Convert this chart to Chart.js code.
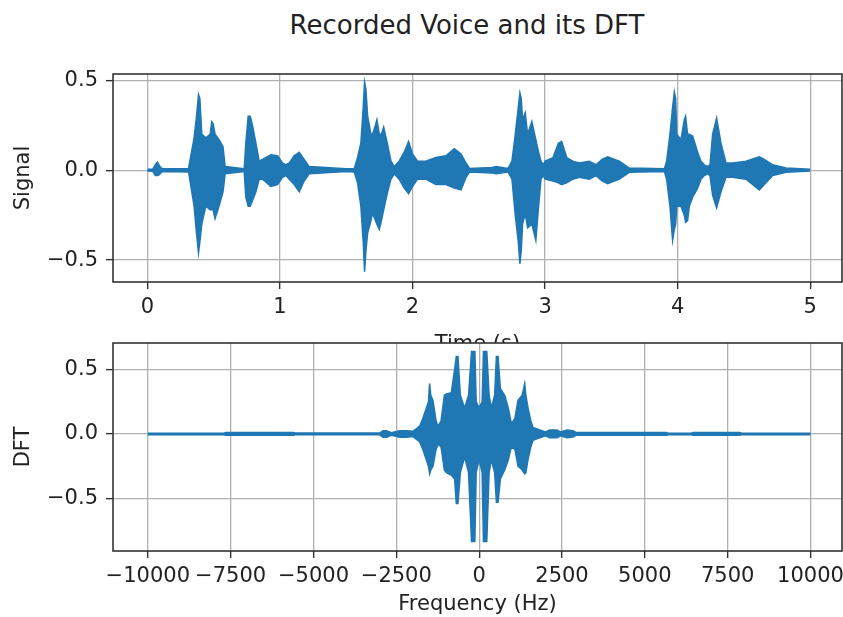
<!DOCTYPE html>
<html>
<head>
<meta charset="utf-8">
<title>Recorded Voice and its DFT</title>
<script src="https://cdn.jsdelivr.net/npm/chart.js@4.4.1/dist/chart.umd.min.js"></script>
<style>
  html, body { margin: 0; padding: 0; background: #fff; overflow: hidden; }
  body { width: 843px; height: 617px; position: relative; font-family: "DejaVu Sans", sans-serif; }
  #suptitle { position: absolute; left: 0; top: 10px; width: 934px; text-align: center; font-size: 26px; line-height: 30px; color: #222; }
  #signalChart { position: absolute; left: 0; top: 0; }
  #dftChart { position: absolute; left: 0; top: 330px; }
</style>
</head>
<body>
<div id="suptitle">Recorded Voice and its DFT</div>
<canvas id="signalChart" width="843" height="360"></canvas>
<canvas id="dftChart" width="843" height="287"></canvas>
<script>
// recorded signal: envelope of the waveform (upper / lower) over time in seconds
const sigTime = [0.00, 0.04, 0.06, 0.075, 0.09, 0.11, 0.31, 0.352, 0.37, 0.385, 0.395, 0.41, 0.44, 0.473, 0.485, 0.495, 0.51, 0.54, 0.57, 0.586,
  0.73, 0.742, 0.76, 0.775, 0.792, 0.818, 0.843, 0.868, 0.931, 0.981, 1.019, 1.044, 1.07, 1.107, 1.145, 1.182, 1.22, 1.5,
  1.56, 1.585, 1.61, 1.628, 1.638, 1.648, 1.661, 1.686, 1.698, 1.72, 1.731, 1.749, 1.765, 1.782, 1.812, 1.837, 1.862,
  1.899, 1.937, 1.97, 2.0, 2.038, 2.1, 2.176, 2.252, 2.315, 2.366, 2.403, 2.43, 2.6, 2.63, 2.72,
  2.75, 2.775, 2.798, 2.81, 2.82, 2.83, 2.85, 2.868, 2.9, 2.93, 2.951, 2.969, 2.986,
  3.0, 3.06, 3.1, 3.125, 3.163, 3.209, 3.258, 3.333, 3.384, 3.43, 3.472, 3.56, 3.635, 3.9,
  3.917, 3.942, 3.962, 3.975, 3.985, 3.993, 4.025, 4.05, 4.06, 4.075, 4.088, 4.113, 4.151, 4.176, 4.201, 4.226,
  4.244, 4.264, 4.294, 4.327, 4.365, 4.415, 4.516, 4.616, 4.654, 4.717, 4.818, 5.0];
const sigUpper = [0.005, 0.006, 0.03, 0.045, 0.025, 0.008, 0.01, 0.18, 0.3, 0.42, 0.4, 0.2, 0.18, 0.2, 0.27, 0.26, 0.2, 0.17, 0.13, 0.02,
  0.008, 0.15, 0.3, 0.3, 0.25, 0.15, 0.05, 0.06, 0.085, 0.08, 0.04, 0.03, 0.04, 0.08, 0.1, 0.06, 0.02, 0.008,
  0.01, 0.07, 0.15, 0.35, 0.49, 0.45, 0.3, 0.2, 0.2, 0.25, 0.28, 0.2, 0.2, 0.24, 0.14, 0.05, 0.02,
  0.05, 0.1, 0.16, 0.09, 0.05, 0.05, 0.07, 0.08, 0.12, 0.09, 0.04, 0.01, 0.015, 0.02, 0.01,
  0.05, 0.2, 0.35, 0.43, 0.4, 0.28, 0.32, 0.2, 0.27, 0.17, 0.1, 0.05, 0.03,
  0.05, 0.07, 0.15, 0.16, 0.07, 0.05, 0.04, 0.05, 0.03, 0.06, 0.075, 0.05, 0.012, 0.008,
  0.05, 0.2, 0.35, 0.435, 0.4, 0.2, 0.17, 0.28, 0.3, 0.2, 0.2, 0.19, 0.1, 0.05, 0.03, 0.02,
  0.03, 0.2, 0.29, 0.15, 0.04, 0.04, 0.05, 0.075, 0.06, 0.03, 0.012, 0.005];
const sigLower = [-0.005, -0.006, -0.03, -0.03, -0.025, -0.008, -0.01, -0.2, -0.35, -0.46, -0.4, -0.3, -0.2, -0.22, -0.22, -0.22, -0.27, -0.2, -0.12, -0.02,
  -0.008, -0.15, -0.2, -0.2, -0.17, -0.12, -0.05, -0.05, -0.09, -0.08, -0.04, -0.03, -0.05, -0.08, -0.12, -0.06, -0.02, -0.008,
  -0.01, -0.07, -0.2, -0.4, -0.565, -0.45, -0.35, -0.28, -0.24, -0.28, -0.3, -0.33, -0.28, -0.22, -0.12, -0.05, -0.02,
  -0.05, -0.1, -0.13, -0.09, -0.05, -0.05, -0.08, -0.08, -0.1, -0.11, -0.04, -0.01, -0.015, -0.02, -0.01,
  -0.05, -0.25, -0.4, -0.52, -0.45, -0.3, -0.24, -0.32, -0.3, -0.39, -0.2, -0.05, -0.03,
  -0.05, -0.06, -0.07, -0.08, -0.07, -0.05, -0.04, -0.05, -0.03, -0.06, -0.075, -0.05, -0.012, -0.008,
  -0.05, -0.2, -0.39, -0.33, -0.3, -0.2, -0.2, -0.25, -0.29, -0.28, -0.2, -0.15, -0.1, -0.05, -0.03, -0.02,
  -0.03, -0.14, -0.21, -0.12, -0.04, -0.04, -0.05, -0.11, -0.08, -0.03, -0.012, -0.005];

// DFT of the signal: envelope over frequency in Hz
const freqHz = [-10000, -7700, -7650, -5600, -5550, -3000, -2900, -2800, -2650, -2400, -2200, -2000, -1900, -1797, -1700, -1594, -1530,
  -1495, -1460, -1394, -1300, -1244, -1150, -1050, -991, -840, -740, -690, -640, -568, -438, -320, -230, -130, -90, 0,
  90, 130, 230, 300, 368, 468, 520, 570, 640, 770, 880, 972, 1080, 1172, 1300, 1374, 1410, 1474, 1560, 1625, 1827,
  2000, 2130, 2350, 2450, 2650, 2832, 2934, 5650, 5700, 6400, 6450, 7870, 7920, 10000];
const dftUpper = [0.006, 0.006, 0.01, 0.01, 0.007, 0.007, 0.025, 0.025, 0.01, 0.025, 0.025, 0.02, 0.04, 0.06, 0.12, 0.2, 0.25,
  0.39, 0.3, 0.26, 0.1, 0.06, 0.1, 0.3, 0.31, 0.32, 0.5, 0.6, 0.6, 0.3, 0.2, 0.3, 0.64, 0.64, 0.25, 0.2,
  0.25, 0.64, 0.64, 0.3, 0.2, 0.3, 0.6, 0.6, 0.35, 0.3, 0.2, 0.08, 0.12, 0.26, 0.3, 0.39, 0.3, 0.2, 0.1, 0.05, 0.03,
  0.015, 0.03, 0.03, 0.015, 0.03, 0.025, 0.01, 0.01, 0.006, 0.006, 0.01, 0.01, 0.006, 0.006];
const dftLower = [-0.006, -0.006, -0.01, -0.01, -0.007, -0.007, -0.025, -0.025, -0.01, -0.025, -0.025, -0.02, -0.04, -0.06, -0.12, -0.2, -0.25,
  -0.31, -0.28, -0.25, -0.12, -0.08, -0.1, -0.28, -0.3, -0.32, -0.35, -0.54, -0.54, -0.3, -0.18, -0.3, -0.835, -0.835, -0.3, -0.2,
  -0.3, -0.835, -0.835, -0.3, -0.2, -0.3, -0.53, -0.53, -0.35, -0.28, -0.2, -0.1, -0.12, -0.25, -0.28, -0.31, -0.3, -0.2, -0.1, -0.05, -0.03,
  -0.015, -0.03, -0.03, -0.015, -0.03, -0.025, -0.01, -0.01, -0.006, -0.006, -0.01, -0.01, -0.006, -0.006];

// tick positions
const timeTicks = [0, 1, 2, 3, 4, 5];
const signalTicks = [-0.5, 0, 0.5];
const freqTicks = [-10000, -7500, -5000, -2500, 0, 2500, 5000, 7500, 10000];
const dftTicks = [-0.5, 0, 0.5];

const BLUE = '#1f77b4';
const FONT = 'DejaVu Sans';
const TEXT = '#222';
const SIZE = 21;

const toPoints = (xs, ys) => xs.map((x, i) => ({ x: x, y: ys[i] }));
const minus = s => String(s).replace('-', '\u2212');

// white axes face under everything, dark frame over the data
const axesFrame = {
  id: 'axesFrame',
  beforeDraw(chart) {
    const { ctx, chartArea: a } = chart;
    ctx.save();
    ctx.fillStyle = '#fff';
    ctx.fillRect(a.left, a.top, a.right - a.left, a.bottom - a.top);
    ctx.restore();
  },
  afterDatasetsDraw(chart) {
    const { ctx, chartArea: a } = chart;
    ctx.save();
    ctx.strokeStyle = '#333';
    ctx.lineWidth = 1.6;
    ctx.strokeRect(a.left, a.top, a.right - a.left, a.bottom - a.top);
    ctx.restore();
  }
};

function envelope(xs, hi, lo) {
  return [
    { data: toPoints(xs, hi), borderColor: BLUE, backgroundColor: BLUE, borderWidth: 1.5, pointRadius: 0, fill: '+1' },
    { data: toPoints(xs, lo), borderColor: BLUE, backgroundColor: BLUE, borderWidth: 1.5, pointRadius: 0, fill: false }
  ];
}

function xAxis(min, max, ticks, fmt, label, height, titlePad) {
  return {
    type: 'linear', min: min, max: max,
    afterBuildTicks: s => { s.ticks = ticks.map(v => ({ value: v })); },
    afterFit: s => { s.height = height; s.paddingLeft = 0; s.paddingRight = 0; },
    grid: { color: '#b0b0b0', lineWidth: 1.3, tickColor: '#333', tickLength: 7, tickWidth: 1.4 },
    border: { display: false },
    ticks: { font: { family: FONT, size: SIZE }, color: TEXT, padding: 6, maxRotation: 0, autoSkip: false, callback: v => fmt(v) },
    title: { display: true, text: label, font: { family: FONT, size: SIZE }, color: TEXT, padding: { top: 0, bottom: titlePad } }
  };
}

function yAxis(min, max, ticks, label) {
  return {
    type: 'linear', min: min, max: max,
    afterBuildTicks: s => { s.ticks = ticks.map(v => ({ value: v })); },
    afterFit: s => { s.width = 113; s.paddingTop = 0; s.paddingBottom = 0; },
    grid: { color: '#b0b0b0', lineWidth: 1.3, tickColor: '#333', tickLength: 7, tickWidth: 1.4 },
    border: { display: false },
    ticks: { font: { family: FONT, size: SIZE }, color: TEXT, padding: 8, autoSkip: false, callback: v => minus(v.toFixed(1)) },
    title: { display: true, text: label, font: { family: FONT, size: SIZE }, color: TEXT, padding: { top: 11, bottom: 0 } }
  };
}

const common = {
  responsive: false,
  animation: false,
  plugins: { legend: { display: false }, tooltip: { enabled: false } },
  elements: { line: { tension: 0 } }
};

new Chart(document.getElementById('signalChart'), {
  type: 'line',
  data: { datasets: envelope(sigTime, sigUpper, sigLower) },
  options: Object.assign({}, common, {
    layout: { padding: { top: 74, right: 1, bottom: 0, left: 0 } },
    scales: {
      x: xAxis(-0.26, 5.24, timeTicks, v => minus(v), 'Time (s)', 78, 3),
      y: yAxis(-0.622, 0.535, signalTicks, 'Signal')
    }
  }),
  plugins: [axesFrame]
});

new Chart(document.getElementById('dftChart'), {
  type: 'line',
  data: { datasets: envelope(freqHz, dftUpper, dftLower) },
  options: Object.assign({}, common, {
    layout: { padding: { top: 13, right: 1, bottom: 0, left: 0 } },
    scales: {
      x: xAxis(-11050, 10950, freqTicks, v => minus(v), 'Frequency (Hz)', 66, 0),
      y: yAxis(-0.908, 0.705, dftTicks, 'DFT')
    }
  }),
  plugins: [axesFrame]
});
</script>
</body>
</html>
